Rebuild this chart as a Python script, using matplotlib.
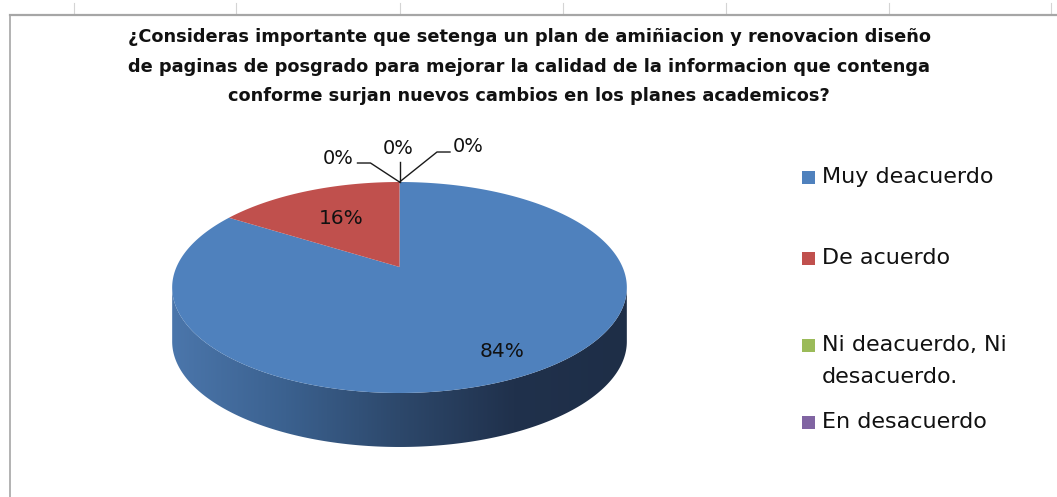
import numpy as np
import matplotlib.pyplot as plt
from matplotlib.patches import Polygon, Rectangle
from matplotlib.colors import LinearSegmentedColormap

# data
categories = ['Muy deacuerdo', 'De acuerdo', 'Ni deacuerdo, Ni\ndesacuerdo.',
              'En desacuerdo', 'Muy en desacuerdo']
values = [84, 16, 0, 0, 0]
colors = ['#4f81bd', '#c0504d', '#9bbb59', '#8064a2', '#4bacc6']
legend_count = 4  # excel legend only shows the first four entries

title_lines = [
    '¿Consideras importante que setenga un plan de amiñiacion y renovacion diseño',
    'de paginas de posgrado para mejorar la calidad de la informacion que contenga',
    'conforme surjan nuevos cambios en los planes academicos?',
]

W, H = 1057, 497
FONT = 'DejaVu Sans'

# pie geometry (pixels), with a bit of perspective like excel's 3d pie
XC, RX = 399.5, 223.0
AY, BY, CP = -49.63, 267.0, 0.1943
DEPTH = 54.0


def proj(theta_deg, drop=0.0, r=1.0):
    t = np.radians(theta_deg)
    u = r * np.cos(t)
    v = r * np.sin(t)
    den = 1 + CP * v
    return XC + RX * u / den, (AY * v + BY) / den + drop


fig = plt.figure(figsize=(W / 100, H / 100), dpi=100)
ax = fig.add_axes([0, 0, 1, 1])
ax.axis('off')

# worksheet frame: gridline ticks, top and left border
for gx in [74, 236, 400, 563, 726, 889, 1051]:
    ax.plot([gx, gx], [3, 14], color='#d4d4d4', lw=0.8)
ax.plot([10, W], [14.5, 14.5], color='#a6a6a6', lw=1.6)
ax.plot([10, 10], [14.5, H], color='#a6a6a6', lw=1.2)

# title
for i, line in enumerate(title_lines):
    ax.text(529, 42 + i * 29.5, line, ha='center', va='baseline',
            fontsize=12.8, fontweight='bold', family=FONT, color='#111111')

# side wall (front half), gradient from left to right
s0 = 180 + np.degrees(np.arcsin(CP))
s1 = 360 - np.degrees(np.arcsin(CP))
ths = np.linspace(s0, s1, 300)
tx, ty = proj(ths)
bx, by = proj(ths, DEPTH)
side_pts = np.column_stack([np.concatenate([tx, bx[::-1]]),
                            np.concatenate([ty, by[::-1]])])
side = Polygon(side_pts, closed=True, facecolor='none', edgecolor='none')
ax.add_patch(side)
side_cmap = LinearSegmentedColormap.from_list(
    'side', ['#4b76ab', '#3b618f', '#2d486b', '#20314c', '#1e2e47'])
grad = np.linspace(0, 1, 256)[None, :]
im = ax.imshow(grad, cmap=side_cmap, aspect='auto', interpolation='bilinear',
               extent=(tx.min(), tx.max(), by.max() + 2, ty.min() - 2))
im.set_clip_path(side)

# top surface slices: excel starts at 12 o'clock and goes clockwise
total = float(sum(values))
label_r = [0.82, 0.6]
start = 90.0
zero_anchor = proj(90.0)
zero_leaders = [
    ([(0, 0), (-29, -19), (-42, -19)], (-46, -24), 'right'),
    ([(0, 0), (0, -20)], (-1.5, -34), 'center'),
    ([(0, 0), (37.5, -30), (50.5, -30)], (53.5, -36), 'left'),
]
zi = 0
ri = 0
for val, col in zip(values, colors):
    span = val / total * 360.0
    end = start - span
    if val > 0:
        th = np.linspace(start, end, max(int(span * 2), 10))
        ax_, ay_ = proj(th)
        pts = np.column_stack([np.concatenate([[XC], ax_]),
                               np.concatenate([[BY], ay_])])
        ax.add_patch(Polygon(pts, closed=True, facecolor=col, edgecolor='none'))
        lx, ly = proj((start + end) / 2, r=label_r[ri])
        ri += 1
        ax.text(lx, ly, f'{val / total * 100:.0f}%', ha='center', va='center',
                fontsize=14.5, family=FONT, color='#111111')
    else:
        path, toff, ha = zero_leaders[zi]
        zi += 1
        px = [zero_anchor[0] + p[0] for p in path]
        py = [zero_anchor[1] + p[1] for p in path]
        ax.plot(px, py, color='#1a1a1a', lw=1.0)
        ax.text(zero_anchor[0] + toff[0], zero_anchor[1] + toff[1],
                f'{val / total * 100:.0f}%', ha=ha, va='center',
                fontsize=14, family=FONT, color='#111111')
    start = end

# legend, drawn by hand to match excel spacing
leg_y = [177, 258, 345, 422]
for name, col, ly in zip(categories[:legend_count], colors, leg_y):
    ax.add_patch(Rectangle((802, ly - 6.5), 13, 13, facecolor=col, edgecolor='none'))
    for k, part in enumerate(name.split('\n')):
        ax.text(822, ly + k * 32, part, ha='left', va='center',
                fontsize=16, family=FONT, color='#111111')

ax.set_xlim(0, W)
ax.set_ylim(H, 0)
fig.savefig('out.png', dpi=100)
